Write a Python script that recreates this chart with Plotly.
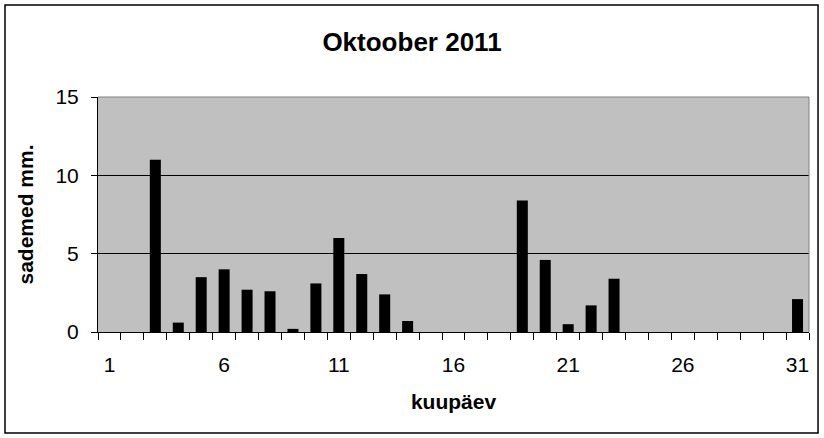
import plotly.graph_objects as go

# rainfall per day, October 2011 (mm)
days = list(range(1, 32))
rain = [0, 0, 11.0, 0.6, 3.5, 4.0, 2.7, 2.6, 0.2, 3.1,
        6.0, 3.7, 2.4, 0.7, 0, 0, 0, 0, 8.4, 4.6,
        0.5, 1.7, 3.4, 0, 0, 0, 0, 0, 0, 0,
        2.1]
x_ticks = [1, 6, 11, 16, 21, 26, 31]
y_ticks = [0, 5, 10, 15]

font = "Arial, Liberation Sans, sans-serif"

fig = go.Figure(go.Bar(x=days, y=rain, width=0.48,
                       marker=dict(color="black", line=dict(width=0))))

fig.update_layout(
    width=824, height=438,
    margin=dict(l=98, r=15, t=97, b=106),
    paper_bgcolor="white",
    plot_bgcolor="#c0c0c0",
    showlegend=False,
    font=dict(family=font, color="black", size=21),
    title=dict(text="<b>Oktoober 2011</b>", x=0.5, xref="container",
               y=0.905, yanchor="middle", font=dict(size=26, family=font)),
)

fig.update_xaxes(
    range=[0.5, 31.5], tickmode="array", tickvals=x_ticks,
    ticks="", showgrid=False, zeroline=False,
    showline=True, linecolor="black", linewidth=1,
    ticklabelstandoff=14,
    minor=dict(tick0=0.5, dtick=1, ticks="outside", ticklen=7,
               tickcolor="black", tickwidth=1, showgrid=False),
    title=dict(text="<b>kuupäev</b>", font=dict(size=21), standoff=19),
)

fig.update_yaxes(
    range=[0, 15], tickmode="array", tickvals=y_ticks,
    ticks="outside", ticklen=6, tickcolor="black",
    showgrid=True, gridcolor="black", gridwidth=1, zeroline=False,
    showline=True, linecolor="black", linewidth=1,
    ticklabelstandoff=8,
    title=dict(text="<b>sademed mm.</b>", font=dict(size=21), standoff=16),
)

# grey plot-area border on top and right
fig.add_shape(type="line", xref="paper", yref="paper", x0=0, x1=1, y0=1, y1=1,
              line=dict(color="#808080", width=1))
fig.add_shape(type="line", xref="paper", yref="paper", x0=1, x1=1, y0=0, y1=1,
              line=dict(color="#808080", width=1))
# outer chart frame
fig.add_shape(type="rect", xref="paper", yref="paper",
              x0=-0.1308, x1=1.0127, y0=-0.4298, y1=1.3915,
              line=dict(color="black", width=1.5))

# drop the default page margin so the chart sits at the window origin
fig.write_html("out.html", config={"displayModeBar": False},
               post_script="document.body.style.margin='0';")
